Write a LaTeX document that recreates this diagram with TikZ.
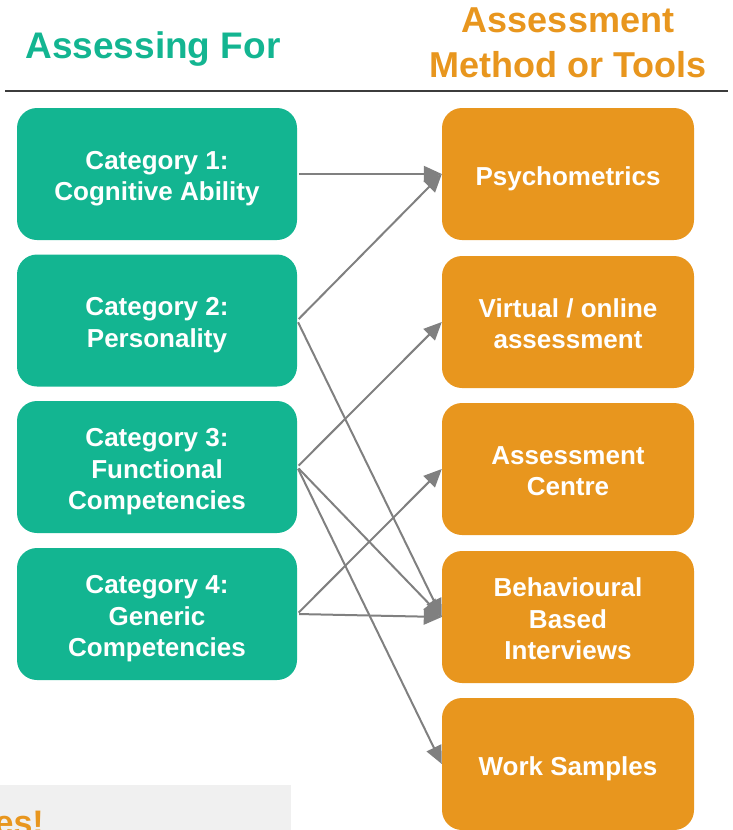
\documentclass[tikz,border=0pt]{standalone}
\usepackage{fontspec}
\setmainfont{Liberation Sans}
\usetikzlibrary{arrows.meta,positioning,calc}
\definecolor{tealgreen}{RGB}{19,181,145}
\definecolor{amber}{RGB}{232,150,30}
\definecolor{linkgray}{RGB}{128,128,128}
\definecolor{rulegray}{RGB}{60,60,60}
\definecolor{panelgray}{RGB}{240,240,240}
% keeps box texts sitting a bit low, as one block
\newcommand{\capgap}{\rule{0pt}{28pt}}

\begin{document}
\begin{tikzpicture}[x=1pt, y=-1pt,
	catbox/.style={fill=tealgreen, rounded corners=20pt, minimum width=280pt, minimum height=132pt,
		text=white, align=center, font=\bfseries\fontsize{26}{31.5}\selectfont,
		execute at end node={\rule[-6pt]{0pt}{0pt}}},
	toolbox/.style={catbox, fill=amber, minimum width=252pt},
	link/.style={-{Triangle[length=18pt,width=16pt]}, draw=linkgray, fill=linkgray, line width=2pt, shorten <=2pt}]
			\useasboundingbox (0,0) rectangle (733,830);
			\node [text=tealgreen, font=\bfseries\fontsize{37}{45}\selectfont, inner sep=0pt] (headcat) at (153,49) {Assessing For};
			\node [text=amber, align=center, font=\bfseries\fontsize{36}{45}\selectfont, inner sep=0pt] (headtool) at (568,42.6) {Assessment\\Method or Tools};
			\draw [draw=rulegray, line width=2pt] (5,91) -- (728,91);
			
			\node [catbox] (cat1) at (157,174) {\capgap Category 1:\\Cognitive Ability};
			\node [catbox] (cat2) at (157,320.5) {\capgap Category 2:\\Personality};
			\node [catbox] (cat3) at (157,467) {\capgap Category 3:\\Functional\\Competencies};
			\node [catbox] (cat4) at (157,614) {\capgap Category 4:\\Generic\\Competencies};
			
			\node [toolbox] (tool1) at (568,174) {\capgap Psychometrics};
			\node [toolbox] (tool2) at (568,322) {\capgap Virtual / online\\assessment};
			\node [toolbox] (tool3) at (568,469) {\capgap Assessment\\Centre};
			\node [toolbox] (tool4) at (568,617) {\capgap Behavioural\\Based\\Interviews};
			\node [toolbox] (tool5) at (568,764) {\capgap Work Samples};
			
			\foreach \a/\b in {1/1,2/1,2/4,3/2,3/4,3/5,4/3,4/4}{
				\draw[link] (cat\a.east) -- (tool\b.west);
			}
			
			\fill[panelgray] (0,785) rectangle (291,840);
			\node [anchor=base east, text=amber, font=\bfseries\fontsize{34}{40}\selectfont, inner sep=0pt] (tail) at (44,834) {es!};
		\end{tikzpicture}
\end{document}
